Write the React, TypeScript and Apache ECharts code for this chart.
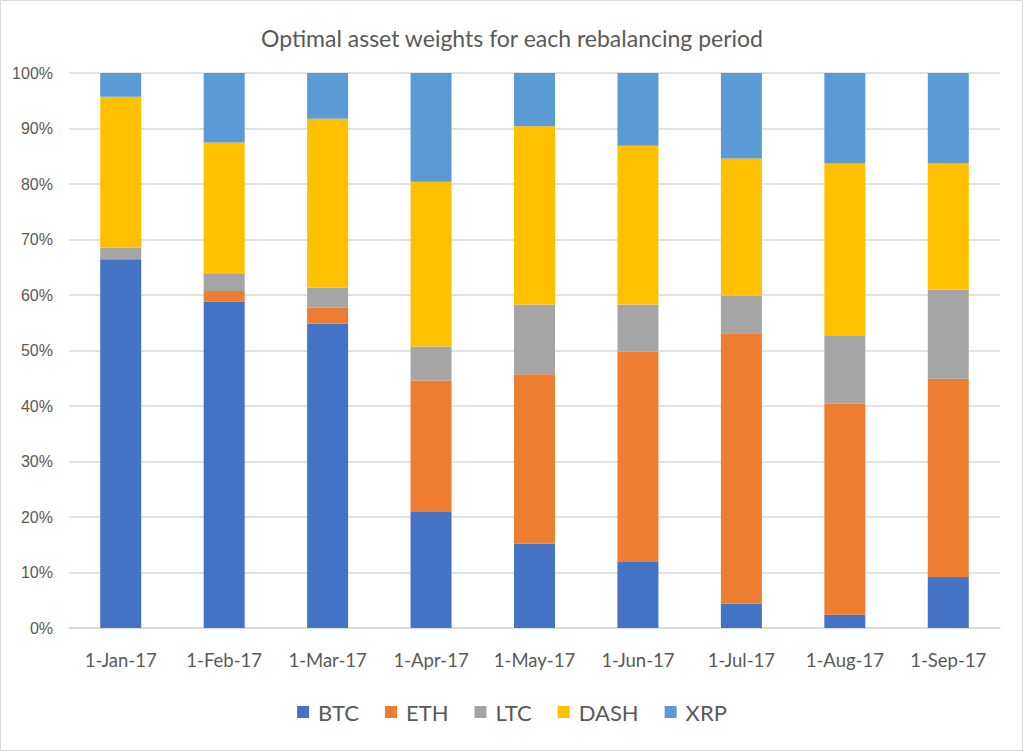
import React, { useEffect, useRef } from "react";
import * as echarts from "echarts";

const categories = ["1-Jan-17", "1-Feb-17", "1-Mar-17", "1-Apr-17", "1-May-17", "1-Jun-17", "1-Jul-17", "1-Aug-17", "1-Sep-17"];
const btc = [66.3, 58.8, 54.8, 20.9, 15.2, 11.9, 4.4, 2.4, 9.2];
const eth = [0.2, 1.9, 2.9, 23.7, 30.5, 37.9, 48.7, 38.0, 35.7];
const ltc = [2.0, 3.2, 3.6, 6.1, 12.6, 8.5, 6.8, 12.2, 16.1];
const dash = [27.2, 23.6, 30.45, 29.7, 32.1, 28.6, 24.7, 31.1, 22.7];
const xrp = [4.3, 12.5, 8.25, 19.6, 9.6, 13.1, 15.5, 16.3, 16.3];

const seriesNames = ["BTC", "ETH", "LTC", "DASH", "XRP"];
const seriesData = [btc, eth, ltc, dash, xrp];
const colors = ["#4472C4", "#ED7D31", "#A5A5A5", "#FFC000", "#5B9BD5"];

export default function App() {
  const ref = useRef<HTMLDivElement>(null);
  useEffect(() => {
    if (!ref.current) return;
    const chart = echarts.init(ref.current, null, { renderer: "svg" });
    chart.setOption({
      animation: false,
      backgroundColor: "#ffffff",
      title: {
        text: "Optimal asset weights for each rebalancing period",
        left: "center",
        top: 21,
        textStyle: { fontFamily: "Lato", fontSize: 23, fontWeight: "normal", color: "#595959" },
      },
      graphic: [
        {
          type: "rect",
          shape: { x: 0.5, y: 0.5, width: 1022, height: 750 },
          style: { fill: "none", stroke: "#d9d9d9", lineWidth: 1 },
          silent: true,
        },
      ],
      legend: {
        bottom: 24,
        left: "center",
        itemWidth: 12,
        itemHeight: 12,
        itemGap: 26,
        icon: "rect",
        textStyle: { fontFamily: "Lato", fontSize: 22, color: "#595959", padding: [0, 0, 0, 4] },
        data: seriesNames,
      },
      grid: { left: 69, right: 24, top: 73, bottom: 124, containLabel: false },
      xAxis: {
        type: "category",
        data: categories,
        axisLine: { lineStyle: { color: "#d9d9d9", width: 1.5 } },
        axisTick: { show: false },
        axisLabel: { interval: 0, fontFamily: "Lato", fontSize: 18.5, color: "#595959", margin: 22 },
      },
      yAxis: {
        type: "value",
        min: 0,
        max: 100,
        interval: 10,
        axisLine: { show: false },
        axisTick: { show: false },
        splitLine: { lineStyle: { color: "#d9d9d9", width: 1.5 } },
        axisLabel: { fontFamily: "Liberation Sans", fontSize: 16, color: "#595959", margin: 16, formatter: "{value}%" },
      },
      series: seriesNames.map((name, i) => ({
        name,
        type: "bar",
        stack: "total",
        data: seriesData[i],
        barWidth: 41,
        itemStyle: { color: colors[i] },
      })),
    });
    return () => chart.dispose();
  }, []);
  return <div ref={ref} style={{ position: "fixed", left: 0, top: 0, width: 1024, height: 752 }} />;
}
